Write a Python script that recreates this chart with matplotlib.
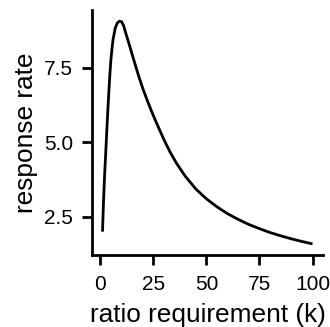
import matplotlib
matplotlib.use("Agg")
import matplotlib.pyplot as plt

# values
k_values = [1, 1.5, 2, 2.5, 3, 3.5, 4, 4.5, 5, 5.5, 6, 7, 8, 9, 10, 11, 12, 13, 14,
            16, 18, 20, 22, 24, 26, 28, 30, 33, 36, 40, 45, 50, 55, 60, 65, 70, 75,
            80, 85, 90, 95, 100]
response_rate = [2.0, 3.05, 3.9, 4.6, 5.35, 6.05, 6.7, 7.3, 7.8, 8.15, 8.45, 8.83,
                 9.0, 9.06, 9.04, 8.9, 8.65, 8.42, 8.18, 7.7, 7.23, 6.8, 6.42, 6.06,
                 5.72, 5.4, 5.08, 4.65, 4.28, 3.86, 3.43, 3.1, 2.83, 2.6, 2.41, 2.24,
                 2.1, 1.97, 1.86, 1.76, 1.67, 1.59]
x_ticks = [0, 25, 50, 75, 100]
y_ticks = [2.5, 5.0, 7.5]
x_label = "ratio requirement (k)"
y_label = "response rate"

plt.rcParams['font.family'] = ['Liberation Sans', 'DejaVu Sans']

fig = plt.figure(figsize=(3.30, 3.27), dpi=100)
ax = fig.add_axes([92 / 330, 1 - 255 / 327, (323 - 92) / 330, (255 - 10) / 327])
ax.plot(k_values, response_rate, color='black', linewidth=2.0, solid_capstyle='butt')

ax.set_xticks(x_ticks)
ax.set_yticks(y_ticks)
ax.set_yticklabels([f"{v:.1f}" for v in y_ticks])
for s in ['top', 'right']:
    ax.spines[s].set_visible(False)
for s in ['left', 'bottom']:
    ax.spines[s].set_linewidth(2.0)
ax.tick_params(axis='both', length=7.5, width=2.0, labelsize=15, color='black')
ax.tick_params(axis='x', pad=6.9)
ax.tick_params(axis='y', pad=6.3)
ax.set_xlabel(x_label, fontsize=18.9, labelpad=6.6)
ax.set_ylabel(y_label, fontsize=18.9, labelpad=4.2)

fig.savefig("out.png", dpi=100)
